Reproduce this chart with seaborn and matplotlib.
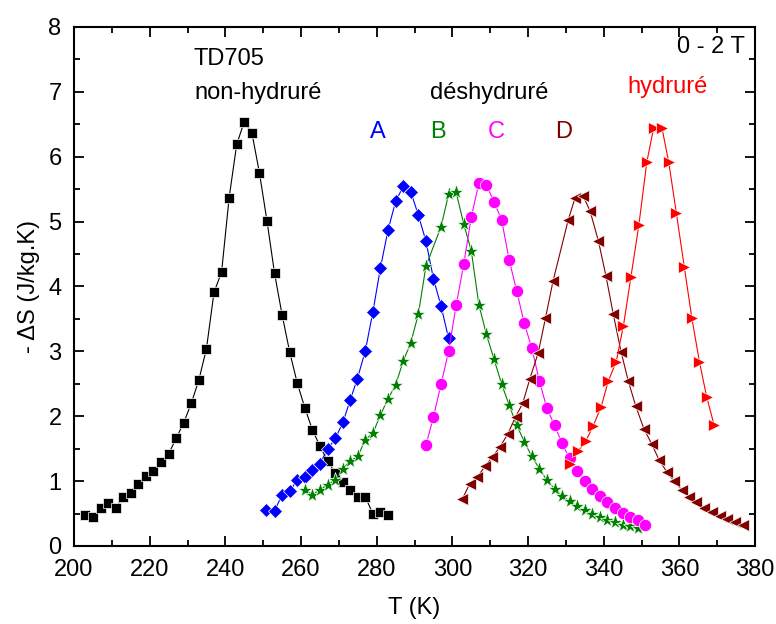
import matplotlib
matplotlib.use('Agg')
import matplotlib.pyplot as plt
import seaborn as sns
from matplotlib.ticker import MultipleLocator

# ========== data ==========
# TD705 non-hydruré (black squares)
t_ref = [203, 205, 207, 209, 211, 213, 215, 217, 219, 221, 223, 225, 227, 229, 231,
         233, 235, 237, 239, 241, 243, 245, 247, 249, 251, 253, 255, 257, 259, 261,
         263, 265, 267, 269, 271, 273, 275, 277, 279, 281, 283]
ds_ref = [0.48, 0.45, 0.58, 0.66, 0.59, 0.76, 0.82, 0.95, 1.08, 1.15, 1.30, 1.42, 1.66,
          1.90, 2.20, 2.56, 3.04, 3.91, 4.22, 5.37, 6.19, 6.54, 6.37, 5.75, 5.01, 4.20,
          3.56, 2.99, 2.51, 2.13, 1.79, 1.54, 1.31, 1.13, 0.99, 0.86, 0.75, 0.75, 0.50,
          0.52, 0.47]

# déshydruré A (blue diamonds)
t_a = [250.7, 253.0, 254.9, 257.0, 259.0, 261.0, 262.8, 265.0, 267.0, 269.1, 271.1,
       273.0, 274.9, 277.0, 279.0, 281.0, 283.0, 285.0, 287.0, 289.0, 291.0, 293.0,
       295.0, 297.0, 299.0]
ds_a = [0.55, 0.54, 0.78, 0.84, 1.02, 1.07, 1.17, 1.27, 1.49, 1.66, 1.91, 2.25, 2.58,
        3.01, 3.61, 4.29, 4.87, 5.31, 5.54, 5.46, 5.10, 4.70, 4.12, 3.70, 3.20]

# déshydruré B (green stars)
t_b = [261, 263, 265, 267, 269, 271, 273, 275, 277, 279, 281, 283, 285, 287, 289, 291,
       293, 297, 299, 301, 303, 305, 307, 309, 311, 313, 315, 317, 319, 321, 323, 325,
       327, 329, 331, 333, 335, 337, 339, 341, 343, 345, 347, 349]
ds_b = [0.87, 0.79, 0.87, 0.94, 1.02, 1.19, 1.31, 1.38, 1.64, 1.74, 2.02, 2.27, 2.48,
        2.85, 3.13, 3.57, 4.31, 4.92, 5.42, 5.45, 4.96, 4.55, 3.72, 3.26, 2.88, 2.50,
        2.17, 1.86, 1.61, 1.38, 1.19, 1.01, 0.88, 0.77, 0.69, 0.61, 0.55, 0.50, 0.44,
        0.40, 0.37, 0.33, 0.31, 0.28]

# déshydruré C (magenta circles)
t_c = [293, 295, 297, 299, 301, 303, 305, 307, 309, 311, 313, 315, 317, 319, 321, 323,
       325, 327, 329, 331, 333, 335, 337, 339, 341, 343, 345, 347, 349, 351]
ds_c = [1.55, 1.99, 2.49, 3.00, 3.71, 4.34, 5.07, 5.59, 5.57, 5.30, 5.03, 4.41, 3.93,
        3.43, 3.05, 2.54, 2.12, 1.86, 1.58, 1.35, 1.15, 1.00, 0.88, 0.77, 0.68, 0.59,
        0.51, 0.45, 0.40, 0.32]

# déshydruré D (dark red left triangles)
t_d = [302.6, 304.6, 306.6, 308.6, 310.6, 312.6, 314.6, 316.7, 318.6, 320.5, 322.7,
       324.6, 326.6, 330.6, 332.4, 334.6, 336.4, 338.6, 340.6, 342.5, 344.6, 346.5,
       348.5, 350.6, 352.7, 354.6, 356.7, 358.6, 360.6, 362.6, 364.5, 366.6, 368.5,
       370.7, 372.7, 374.6, 376.7]
ds_d = [0.72, 0.96, 1.06, 1.23, 1.37, 1.53, 1.72, 1.99, 2.20, 2.58, 2.98, 3.51, 4.08,
        5.02, 5.36, 5.39, 5.16, 4.70, 4.16, 3.58, 2.99, 2.54, 2.15, 1.81, 1.57, 1.33,
        1.14, 1.00, 0.87, 0.76, 0.68, 0.59, 0.52, 0.46, 0.41, 0.37, 0.32]

# hydruré (red right triangles)
t_h = [331.1, 333.3, 335.3, 337.2, 339.3, 341.2, 343.3, 345.2, 347.2, 349.3, 351.4,
       353.2, 355.4, 357.2, 359.2, 361.3, 363.3, 365.3, 367.2, 369.2]
ds_h = [1.27, 1.47, 1.62, 1.85, 2.14, 2.54, 2.84, 3.39, 4.15, 4.95, 5.92, 6.44, 6.44,
        5.91, 5.13, 4.30, 3.51, 2.84, 2.30, 1.86]

# ========== plot ==========
sns.set_style('ticks')
plt.rcParams['font.family'] = ['Liberation Sans', 'DejaVu Sans']
plt.rcParams['text.color'] = 'black'
plt.rcParams['axes.labelcolor'] = 'black'

fig = plt.figure(figsize=(7.76, 6.24), dpi=100)
ax = fig.add_axes([0.0954, 0.125, 0.8776, 0.832])

series = [
    (t_ref, ds_ref, 'black', 's', 7.8),
    (t_a, ds_a, 'blue', 'D', 7.4),
    (t_b, ds_b, 'green', '*', 11.0),
    (t_c, ds_c, 'magenta', 'o', 8.8),
    (t_d, ds_d, '#800000', '<', 9.2),
    (t_h, ds_h, 'red', '>', 9.2),
]
for tx, ds, col, mk, ms in series:
    sns.lineplot(x=tx, y=ds, color=col, marker=mk, markersize=ms, linewidth=0.8,
                 markeredgecolor='white', markeredgewidth=0.5, sort=False, ax=ax)

ax.set_xlim(200, 380)
ax.set_ylim(0, 8)
ax.xaxis.set_major_locator(MultipleLocator(20))
ax.xaxis.set_minor_locator(MultipleLocator(10))
ax.yaxis.set_major_locator(MultipleLocator(1))
ax.yaxis.set_minor_locator(MultipleLocator(0.5))
ax.tick_params(which='both', direction='in', top=True, right=True, width=1.3,
               labelsize=17, colors='black')
ax.tick_params(which='major', length=7)
ax.tick_params(which='minor', length=4)
ax.tick_params(axis='x', pad=9)
ax.tick_params(axis='y', pad=9)
for sp in ax.spines.values():
    sp.set_linewidth(1.5)
    sp.set_color('black')

ax.set_xlabel('T (K)', fontsize=17, labelpad=12, color='black')
ax.set_ylabel('- \u0394S (J/kg.K)', fontsize=17, labelpad=6, color='black')

ax.text(231.7, 7.51, 'TD705', fontsize=17, va='center', ha='left', color='black')
ax.text(231.7, 6.98, 'non-hydruré', fontsize=17, va='center', ha='left', color='black')
ax.text(294.1, 6.98, 'déshydruré', fontsize=17, va='center', ha='left', color='black')
ax.text(346.2, 7.08, 'hydruré', fontsize=17, va='center', ha='left', color='red')
ax.text(377.4, 7.69, '0 - 2 T', fontsize=17, va='center', ha='right', color='black')
ax.text(280.4, 6.38, 'A', fontsize=17, va='center', ha='center', color='blue')
ax.text(296.2, 6.38, 'B', fontsize=17, va='center', ha='center', color='green')
ax.text(311.5, 6.38, 'C', fontsize=17, va='center', ha='center', color='magenta')
ax.text(329.3, 6.38, 'D', fontsize=17, va='center', ha='center', color='#800000')

fig.savefig('out.png', dpi=100)
